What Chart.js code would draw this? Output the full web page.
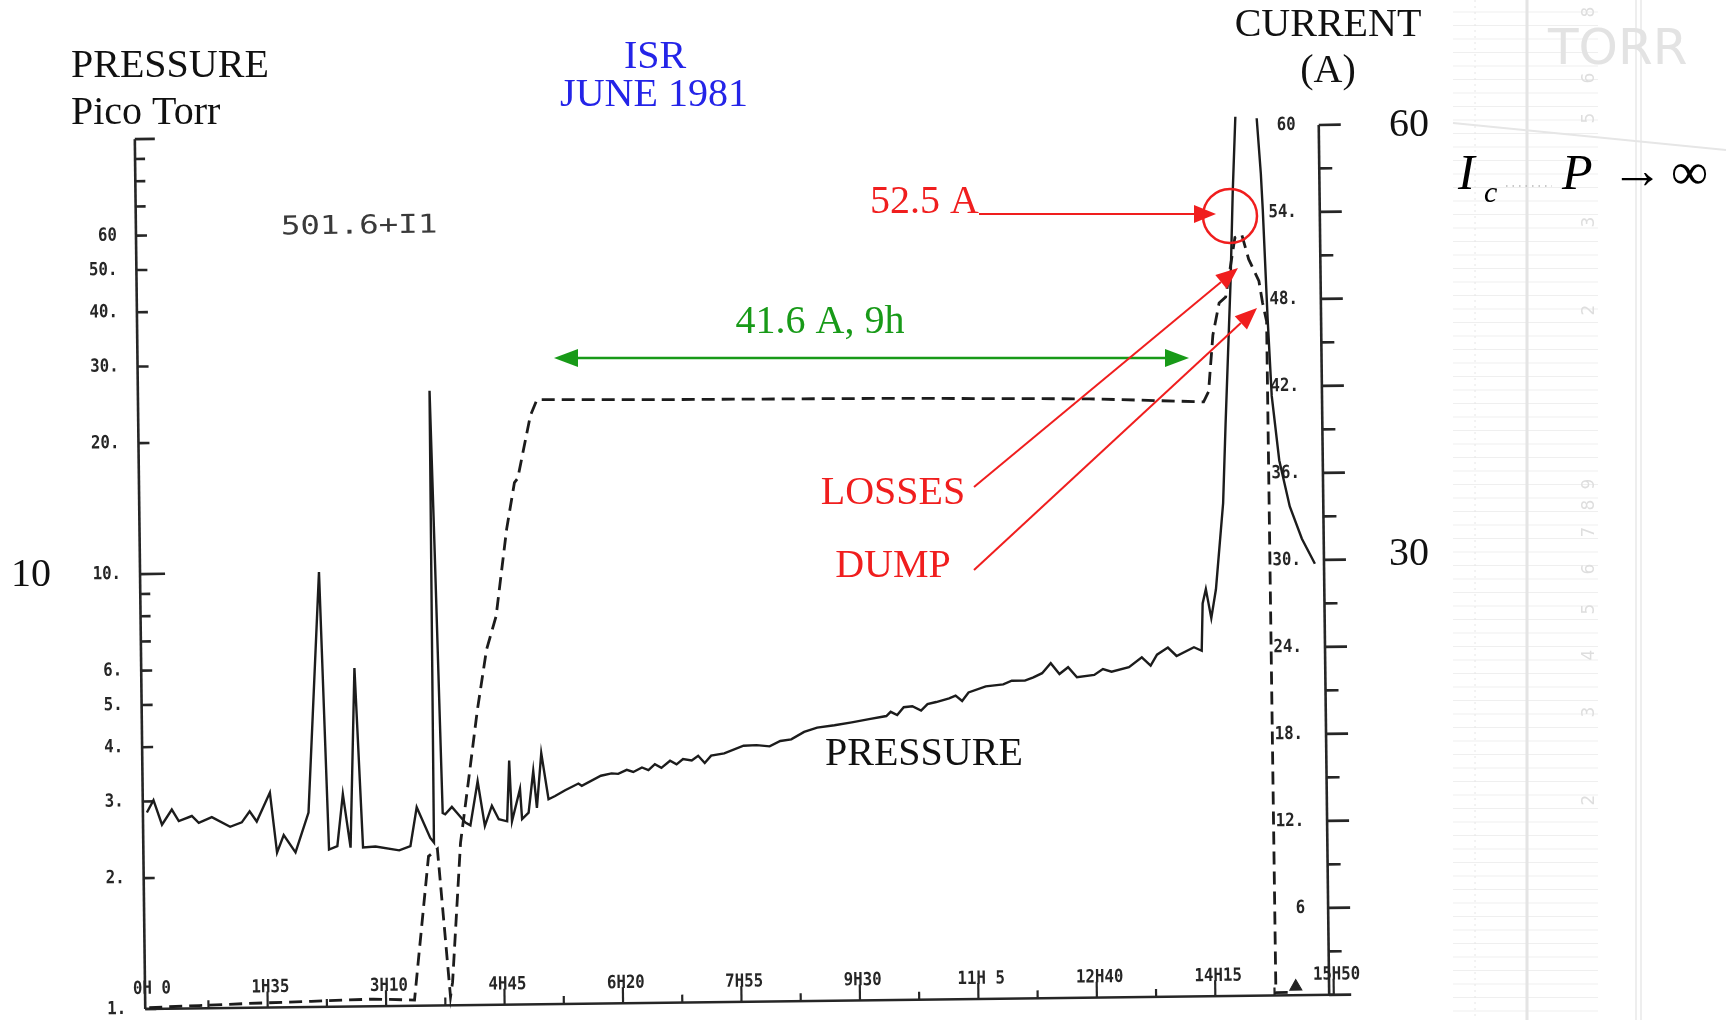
<!DOCTYPE html>
<html>
<head>
<meta charset="utf-8">
<title>ISR June 1981 - pressure and current</title>
<script src="https://cdn.jsdelivr.net/npm/chart.js@4/dist/chart.umd.min.js"></script>
<style>
html,body{margin:0;padding:0;background:#ffffff;}
#wrap{position:relative;width:1726px;height:1020px;overflow:hidden;background:#ffffff;}
canvas{position:absolute;left:0;top:0;}
</style>
</head>
<body>
<div id="wrap"><canvas id="c" width="1726" height="1020" style="width:1726px;height:1020px"></canvas></div>
<script>
// ---------- data (time in minutes, pressure in pico Torr, current in A) ----------
const pressureTime = [0, 5.4, 12, 20, 25.5, 36, 41.5, 52, 66.6, 76, 82.4, 88, 98.8, 104, 109.5, 118.8, 129.6, 140.3, 145.7, 152.4,
  157.3, 163, 167.8, 173, 183, 202, 211, 216.4, 227, 229.9, 230.7, 233.4, 237.2, 239.2, 244.6, 248.6, 255.3, 259.3, 265.5, 270.9,
  276.7, 282.1, 288.8, 291, 292.7, 299.4, 300.8, 306.1, 310.2, 312.8, 316.8, 322.2, 327.5, 335.6, 346.3, 349,
  364.4, 373, 378.3, 385.2, 390.4, 397.4, 402.6, 407.8, 413, 420, 425.2, 430.4, 437.4, 442.6, 447.8, 453, 463.5, 479.1, 489.5, 500,
  508.6, 517.4, 527.8, 538.3, 552.2, 566.1, 580, 593.9, 597.4, 602.6, 607.9, 614.8, 621.8, 627, 634, 644.4, 649.6, 654.8, 660, 673.9,
  687.9, 694.8, 705.3, 712.2, 719.2, 726.2, 733.1, 740.1, 747.1, 761, 768, 774.9, 788.9, 799.3, 806.3, 811.5, 820.3, 827.2, 841.2, 847.4,
  848.6, 851.3, 855.4, 859.4, 866, 868.7, 871.4, 874.1, 876.7, 879.5, 888, 896.6, 899.4, 900.6, 903.4, 906, 911.4, 919.4, 928.8, 939];
const pressureValue = [2.83, 3.02, 2.65, 2.87, 2.70, 2.77, 2.67, 2.75, 2.61, 2.67, 2.83, 2.68, 3.12, 2.27, 2.49, 2.27, 2.80, 10.0, 2.30, 2.34,
  3.08, 2.32, 6.0, 2.32, 2.33, 2.28, 2.33, 2.86, 2.43, 2.37, 25.9, 10.6, 2.77, 2.75, 2.86, 2.77, 2.63, 2.59, 3.27, 2.58,
  2.87, 2.67, 2.64, 3.64, 2.64, 3.13, 2.67, 2.76, 3.44, 2.83, 3.78, 2.96, 3.01, 3.10, 3.21, 3.17,
  3.34, 3.38, 3.37, 3.44, 3.40, 3.48, 3.43, 3.54, 3.47, 3.60, 3.53, 3.63, 3.60, 3.69, 3.55, 3.69, 3.73, 3.88, 3.89, 3.86,
  3.97, 4.00, 4.16, 4.25, 4.30, 4.36, 4.43, 4.50, 4.60, 4.52, 4.71, 4.73, 4.62, 4.78, 4.83, 4.92, 4.99, 4.85, 5.07, 5.23,
  5.28, 5.38, 5.38, 5.47, 5.59, 5.89, 5.56, 5.76, 5.46, 5.52, 5.69, 5.61, 5.74, 6.04, 5.78, 6.12, 6.35, 6.07, 6.35, 6.23,
  8.00, 8.63, 7.40, 8.62, 13.6, 20.6, 30.1, 44.0, 70.7, 105, null, 104, 77.5, 64.1, 36.3, 23.9, 17.0, 13.3, 11.2, 9.8];

const currentTime = [0, 40, 80, 130, 180, 212.8, 225.4, 232.6, 241.7, 243.5, 251.2, 257.9, 265.9, 273.9, 281.9, 291.2, 297.9, 300.6,
  311.3, 316.7, 420, 600, 760, 851.3, 855.4, 859.4, 864.7, 870, 878, 883.5, 888.8, 896.8, 899.5, 902.6, 903.6, 915];
const currentValue = [0.1, 0.2, 0.3, 0.4, 0.5, 0.4, 10.3, 10.8, 0.6, 1.6, 11.2, 15.3, 20.3, 24.5, 26.8, 32.8, 36.0, 36.3,
  40.6, 41.7, 41.6, 41.5, 41.3, 41.0, 41.7, 45.6, 47.8, 48.2, 52.3, 52.5, 50.8, 49.3, 47.8, 46.5, 0.2, 0.2];

const markerTime = [919.6];
const markerValue = [0.6];

// ---------- tick labels ----------
const xTickValues = [0, 95, 190, 285, 380, 475, 570, 665, 760, 855, 950];
const xTickLabels = ['0H 0', '1H35', '3H10', '4H45', '6H20', '7H55', '9H30', '11H 5', '12H40', '14H15', '15H50'];
const xMinorTicks = [47.5, 142.5, 237.5, 332.5, 427.5, 522.5, 617.5, 712.5, 807.5, 902.5];

const pTickValues = [1, 2, 3, 4, 5, 6, 10, 20, 30, 40, 50, 60, 100];
const pTickLabels = ['1.', '2.', '3.', '4.', '5.', '6.', '10.', '20.', '30.', '40.', '50.', '60', ''];
const pMinorTicks = [7, 8, 9, 70, 80, 90];

const iTickValues = [0, 6, 12, 18, 24, 30, 36, 42, 48, 54, 60];
const iTickLabels = ['', '6', '12.', '18.', '24.', '30.', '36.', '42.', '48.', '54.', '60'];
const iMinorTicks = [3, 9, 15, 21, 27, 33, 39, 45, 51, 57];

const rulerDigits = ['8', '6', '5', '3', '2', '9', '8', '7', '6', '5', '4', '3', '2'];

// ---------- helpers ----------
const SERIF = '"Liberation Serif", "DejaVu Serif", serif';
const MONO = '"DejaVu Sans Mono", "Liberation Mono", monospace';
const RED = '#f01e1e', GREEN = '#189a18', BLUE = '#2424e8', INK = '#1c1c1c';
const TILT = -0.012;   // the scanned plot is slightly rotated

function monoLabel(ctx, txt, x, y, align) {
  ctx.save();
  ctx.translate(x, y);
  ctx.scale(1.05, 1.2);
  ctx.font = 'bold 15px ' + MONO;
  ctx.textAlign = align;
  ctx.textBaseline = 'middle';
  ctx.fillStyle = '#262626';
  ctx.fillText(txt, 0, 0);
  ctx.restore();
}
function arrowHead(ctx, x1, y1, x2, y2, len, hw) {
  const a = Math.atan2(y2 - y1, x2 - x1);
  const bx = x2 - len * Math.cos(a), by = y2 - len * Math.sin(a);
  ctx.beginPath();
  ctx.moveTo(x2, y2);
  ctx.lineTo(bx + hw * Math.sin(a), by - hw * Math.cos(a));
  ctx.lineTo(bx - hw * Math.sin(a), by + hw * Math.cos(a));
  ctx.closePath();
  ctx.fill();
  return [bx, by];
}
function arrow(ctx, x1, y1, x2, y2, color, w) {
  ctx.save();
  ctx.strokeStyle = color; ctx.fillStyle = color; ctx.lineWidth = w;
  const b = arrowHead(ctx, x1, y1, x2, y2, 22, 9);
  ctx.beginPath(); ctx.moveTo(x1, y1); ctx.lineTo(b[0], b[1]); ctx.stroke();
  ctx.restore();
}
function serifText(ctx, txt, x, y, color, align, size, style) {
  ctx.save();
  ctx.font = (style ? style + ' ' : '') + (size || 40) + 'px ' + SERIF;
  ctx.fillStyle = color;
  ctx.textAlign = align || 'left';
  ctx.textBaseline = 'alphabetic';
  ctx.fillText(txt, x, y);
  ctx.restore();
}

// ---------- background: faint scanned graph paper on the right ----------
const paperPlugin = {
  id: 'paper',
  beforeDraw(chart) {
    const ctx = chart.ctx;
    ctx.save();
    ctx.fillStyle = '#ffffff';
    ctx.fillRect(0, 0, chart.width, chart.height);
    ctx.strokeStyle = '#efefef';
    ctx.lineWidth = 1;
    for (let y = 12; y < 1020; y += 13.5) {
      ctx.beginPath(); ctx.moveTo(1453, y); ctx.lineTo(1598, y); ctx.stroke();
    }
    ctx.strokeStyle = '#e4e4e4'; ctx.lineWidth = 3;
    ctx.beginPath(); ctx.moveTo(1527, 0); ctx.lineTo(1527, 1020); ctx.stroke();
    ctx.lineWidth = 1.5; ctx.strokeStyle = '#e8e8e8';
    ctx.beginPath(); ctx.moveTo(1636, 0); ctx.lineTo(1636, 1020); ctx.stroke();
    ctx.beginPath(); ctx.moveTo(1641, 0); ctx.lineTo(1641, 1020); ctx.stroke();
    ctx.setLineDash([2, 4]); ctx.strokeStyle = '#e6e6e6'; ctx.lineWidth = 1;
    ctx.beginPath(); ctx.moveTo(1475, 0); ctx.lineTo(1475, 1020); ctx.stroke();
    ctx.setLineDash([]);
    ctx.strokeStyle = '#e6e6e6'; ctx.lineWidth = 2;
    ctx.beginPath(); ctx.moveTo(1453, 123); ctx.quadraticCurveTo(1600, 138, 1726, 150); ctx.stroke();
    ctx.fillStyle = '#e3e3e3';
    ctx.font = '50px "DejaVu Sans", sans-serif';
    ctx.fillText('TORR', 1548, 64);
    const ys = [12, 78, 118, 222, 310, 484, 505, 532, 569, 609, 655, 712, 800];
    ctx.fillStyle = '#dedede';
    ctx.font = '17px "DejaVu Sans", sans-serif';
    for (let i = 0; i < rulerDigits.length; i++) {
      ctx.save(); ctx.translate(1590, ys[i]); ctx.rotate(-Math.PI / 2);
      ctx.textAlign = 'center'; ctx.textBaseline = 'middle';
      ctx.fillText(rulerDigits[i], 0, 0); ctx.restore();
    }
    ctx.restore();
  }
};

// ---------- slight rotation of the scanned plot ----------
const tiltPlugin = {
  id: 'tilt',
  beforeDraw(chart) {
    const c = chart.ctx, a = chart.chartArea;
    const cx = (a.left + a.right) / 2, cy = (a.top + a.bottom) / 2;
    c.save();
    c.translate(cx, cy); c.rotate(TILT); c.translate(-cx, -cy);
  },
  afterDraw(chart) { chart.ctx.restore(); }
};

// ---------- axes drawn from the chart's scales ----------
const axesPlugin = {
  id: 'axesDecor',
  beforeDatasetsDraw(chart) {
    const ctx = chart.ctx, a = chart.chartArea;
    const sx = chart.scales.x, sp = chart.scales.yP, si = chart.scales.yI;
    ctx.save();
    ctx.strokeStyle = '#262626';
    ctx.lineCap = 'butt';
    ctx.lineWidth = 2.6;
    ctx.beginPath(); ctx.moveTo(a.left, sp.getPixelForValue(100)); ctx.lineTo(a.left, sp.getPixelForValue(1)); ctx.stroke();
    ctx.beginPath(); ctx.moveTo(a.right, si.getPixelForValue(60)); ctx.lineTo(a.right, si.getPixelForValue(0)); ctx.stroke();
    ctx.beginPath(); ctx.moveTo(a.left, a.bottom); ctx.lineTo(a.right + 4, a.bottom); ctx.stroke();
    pTickValues.forEach((v, i) => {
      const y = sp.getPixelForValue(v);
      const len = v === 10 ? 25 : (v === 100 ? 20 : 11);
      ctx.beginPath(); ctx.moveTo(a.left, y); ctx.lineTo(a.left + len, y); ctx.stroke();
      if (pTickLabels[i]) monoLabel(ctx, pTickLabels[i], 121, y, 'right');
    });
    pMinorTicks.forEach(v => {
      const y = sp.getPixelForValue(v);
      ctx.beginPath(); ctx.moveTo(a.left, y); ctx.lineTo(a.left + 10, y); ctx.stroke();
    });
    iTickValues.forEach((v, i) => {
      const y = si.getPixelForValue(v);
      ctx.beginPath(); ctx.moveTo(a.right, y); ctx.lineTo(a.right + 22, y); ctx.stroke();
      if (iTickLabels[i]) monoLabel(ctx, iTickLabels[i], a.right - 23, y, 'right');
    });
    iMinorTicks.forEach(v => {
      const y = si.getPixelForValue(v);
      ctx.beginPath(); ctx.moveTo(a.right, y); ctx.lineTo(a.right + 13, y); ctx.stroke();
    });
    ctx.lineWidth = 2.2;
    xTickValues.forEach((v, i) => {
      const x = sx.getPixelForValue(v);
      if (i > 0) { ctx.beginPath(); ctx.moveTo(x, a.bottom); ctx.lineTo(x, a.bottom - 16); ctx.stroke(); }
      monoLabel(ctx, xTickLabels[i], x + 3, a.bottom - 20, 'center');
    });
    xMinorTicks.forEach(v => {
      const x = sx.getPixelForValue(v);
      ctx.beginPath(); ctx.moveTo(x, a.bottom); ctx.lineTo(x, a.bottom - 8); ctx.stroke();
    });
    // printer label of the recorder
    ctx.save();
    ctx.translate(285, 229);
    ctx.scale(1.25, 1);
    ctx.font = '26px ' + MONO;
    ctx.fillStyle = '#3a3a3a';
    ctx.fillText('501.6+I1', 0, 0);
    ctx.restore();
    ctx.restore();
  }
};

// ---------- annotations (drawn upright, after the tilted plot) ----------
const notesPlugin = {
  id: 'notes',
  afterDraw(chart) {
    const ctx = chart.ctx;
    ctx.save();
    serifText(ctx, 'PRESSURE', 71, 77, '#111');
    serifText(ctx, 'Pico Torr', 71, 124, '#111');
    serifText(ctx, 'ISR', 655, 68, BLUE, 'center');
    serifText(ctx, 'JUNE 1981', 654, 106, BLUE, 'center');
    serifText(ctx, 'CURRENT', 1328, 36, '#111', 'center');
    serifText(ctx, '(A)', 1328, 82, '#111', 'center');
    serifText(ctx, '10', 11, 586, '#111');
    serifText(ctx, '60', 1389, 136, '#111');
    serifText(ctx, '30', 1389, 565, '#111');
    serifText(ctx, 'PRESSURE', 825, 765, '#111');
    serifText(ctx, '52.5 A', 870, 213, RED);
    arrow(ctx, 979, 214, 1216, 214, RED, 2);
    ctx.strokeStyle = RED; ctx.lineWidth = 2.5;
    ctx.beginPath(); ctx.arc(1230, 216, 27, 0, Math.PI * 2); ctx.stroke();
    serifText(ctx, '41.6 A, 9h', 820, 333, GREEN, 'center');
    ctx.strokeStyle = GREEN; ctx.fillStyle = GREEN; ctx.lineWidth = 2.5;
    const b1 = arrowHead(ctx, 1189, 358, 554, 358, 24, 9);
    const b2 = arrowHead(ctx, 554, 358, 1189, 358, 24, 9);
    ctx.beginPath(); ctx.moveTo(b1[0], 358); ctx.lineTo(b2[0], 358); ctx.stroke();
    serifText(ctx, 'LOSSES', 893, 504, RED, 'center');
    arrow(ctx, 974, 487, 1238, 268, RED, 2);
    serifText(ctx, 'DUMP', 893, 577, RED, 'center');
    arrow(ctx, 974, 570, 1257, 308, RED, 2);
    serifText(ctx, 'I', 1458, 189, '#000', 'left', 50, 'italic');
    serifText(ctx, 'c', 1484, 202, '#000', 'left', 30, 'italic');
    ctx.setLineDash([1.5, 5]); ctx.strokeStyle = '#b8b8b8'; ctx.lineWidth = 1.5;
    ctx.beginPath(); ctx.moveTo(1506, 186); ctx.lineTo(1552, 186); ctx.stroke();
    ctx.setLineDash([]);
    serifText(ctx, 'P', 1562, 189, '#000', 'left', 50, 'italic');
    serifText(ctx, '\u2192', 1611, 188, '#000', 'left', 52);
    serifText(ctx, '\u221E', 1671, 189, '#000', 'left', 52);
    ctx.restore();
  }
};

// ---------- chart ----------
const toXY = (xs, ys) => xs.map((t, i) => ({ x: t, y: ys[i] }));

new Chart(document.getElementById('c').getContext('2d'), {
  type: 'line',
  data: {
    datasets: [
      { label: 'Pressure (pico Torr)', data: toXY(pressureTime, pressureValue), xAxisID: 'x', yAxisID: 'yP',
        borderColor: INK, borderWidth: 2.4, pointRadius: 0, tension: 0, spanGaps: false, clip: false, order: 2 },
      { label: 'Current (A)', data: toXY(currentTime, currentValue), xAxisID: 'x', yAxisID: 'yI',
        borderColor: INK, borderWidth: 2.8, borderDash: [13, 7], pointRadius: 0, tension: 0, clip: false, order: 1 },
      { label: 'End', data: toXY(markerTime, markerValue), xAxisID: 'x', yAxisID: 'yI', showLine: false,
        pointStyle: 'triangle', pointRadius: 7, backgroundColor: '#222', borderColor: '#222', clip: false }
    ]
  },
  options: {
    responsive: false,
    animation: false,
    devicePixelRatio: 1,
    layout: { padding: { left: 140, right: 402, top: 132, bottom: 18 } },
    plugins: { legend: { display: false }, tooltip: { enabled: false } },
    scales: {
      x: { type: 'linear', min: -3.2, max: 946.3, display: false },
      yP: { type: 'logarithmic', position: 'left', min: 1, max: 100, display: false },
      yI: { type: 'linear', position: 'right', min: 0, max: 60, display: false }
    }
  },
  plugins: [paperPlugin, tiltPlugin, axesPlugin, notesPlugin]
});
</script>
</body>
</html>
